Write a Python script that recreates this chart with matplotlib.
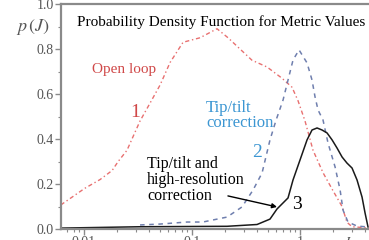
import matplotlib
matplotlib.use("Agg")
import matplotlib.pyplot as plt
from matplotlib.ticker import FixedLocator, NullFormatter

plt.rcParams['font.family'] = ['Liberation Serif', 'DejaVu Serif']
plt.rcParams['mathtext.fontset'] = 'stix'

# curve 1: open loop
x_open = [0.0061, 0.0101, 0.0141, 0.0182, 0.0207, 0.025, 0.0284, 0.033, 0.0409, 0.0506,
          0.0626, 0.0826, 0.1187, 0.1703, 0.2154, 0.278, 0.359, 0.495, 0.681, 0.843,
          0.958, 1.112, 1.319, 1.633, 2.02, 2.45, 2.72, 3.03, 4.26]
y_open = [0.107, 0.18, 0.22, 0.26, 0.30, 0.35, 0.41, 0.48, 0.56, 0.64,
          0.74, 0.83, 0.85, 0.89, 0.85, 0.80, 0.75, 0.72, 0.67, 0.63,
          0.57, 0.48, 0.35, 0.25, 0.17, 0.10, 0.03, 0.01, 0.005]

# curve 2: tip/tilt correction
x_tt = [0.033, 0.0506, 0.090, 0.126, 0.211, 0.290, 0.367, 0.445, 0.527, 0.600, 0.696,
        0.774, 0.861, 0.979, 1.161, 1.291, 1.377, 1.468, 1.633, 1.816, 2.11, 2.35,
        2.50, 2.78, 3.37, 4.26]
y_tt = [0.018, 0.022, 0.031, 0.031, 0.053, 0.098, 0.173, 0.249, 0.396, 0.484, 0.573,
        0.662, 0.751, 0.796, 0.738, 0.662, 0.587, 0.529, 0.484, 0.382, 0.276, 0.173,
        0.084, 0.031, 0.013, 0.009]

# curve 3: tip/tilt and high-resolution correction
x_hr = [0.0061, 0.033, 0.211, 0.400, 0.527, 0.612, 0.774, 0.861, 1.0, 1.161, 1.291,
        1.437, 1.598, 1.778, 1.98, 2.20, 2.45, 2.72, 3.03, 3.37, 3.75, 4.00, 4.26]
y_hr = [0.004, 0.010, 0.012, 0.020, 0.044, 0.089, 0.138, 0.218, 0.307, 0.396, 0.44,
        0.449, 0.44, 0.427, 0.396, 0.36, 0.32, 0.293, 0.271, 0.218, 0.142, 0.071, 0.009]

y_ticks = [0.0, 0.2, 0.4, 0.6, 0.8, 1.0]
y_ticklabels = ["0.0", "0.2", "0.4", "0.6", "0.8", "1.0"]
x_ticks = [0.01, 0.1, 1]
x_ticklabels = ["0.01", "0.1", "1"]

gray = "#8a8a8a"

fig = plt.figure(figsize=(3.69, 2.40), dpi=100)
ax = fig.add_axes([61 / 369, 11 / 240, 308 / 369, 225 / 240])

ax.plot(x_open, y_open, color="#e87070", lw=1.0, linestyle=(0, (3, 2, 1, 2)))
ax.plot(x_tt, y_tt, color="#6f7fae", lw=1.1, linestyle=(0, (3, 3)))
ax.plot(x_hr, y_hr, color="#1a1a1a", lw=1.1)

ax.set_xscale("log")
ax.set_xlim(0.00612, 4.35)
ax.set_ylim(0, 1.0)

ax.xaxis.set_major_locator(FixedLocator(x_ticks))
ax.set_xticklabels(x_ticklabels)
minors = [m * 10.0 ** e for e in (-3, -2, -1, 0) for m in range(2, 10)]
ax.xaxis.set_minor_locator(FixedLocator(minors))
ax.xaxis.set_minor_formatter(NullFormatter())
ax.set_yticks(y_ticks)
ax.set_yticklabels(y_ticklabels)
ax.set_yticks([0.1, 0.3, 0.5, 0.7, 0.9], minor=True)

ax.tick_params(which="major", direction="out", length=4, width=1, color=gray,
               labelcolor="#555555", labelsize=10, pad=1)
ax.tick_params(which="minor", direction="out", length=2.5, width=0.8, color=gray)

for side in ("left", "bottom", "top"):
    ax.spines[side].set_color(gray)
    ax.spines[side].set_linewidth(1.6)
ax.spines["right"].set_visible(False)

ax.text(0.519, 0.92, "Probability Density Function for Metric Values",
        transform=ax.transAxes, ha="center", va="center", fontsize=11, color="black")

ax.text(0.01186, 0.707, "Open loop", color="#d04848", fontsize=11, va="center")
ax.text(0.0297, 0.516, "1", color="#d04848", fontsize=14, ha="center", va="center")

ax.text(0.1349, 0.504, "Tip/tilt\ncorrection", color="#3c96d2", fontsize=12,
        va="center", linespacing=0.95)
ax.text(0.400, 0.338, "2", color="#3c96d2", fontsize=14, ha="center", va="center")

ax.text(0.0383, 0.218, "Tip/tilt and\nhigh-resolution\ncorrection", color="black",
        fontsize=11.5, va="center", linespacing=1.0)
ax.text(0.938, 0.107, "3", color="black", fontsize=14, ha="center", va="center")
ax.annotate("", xy=(0.612, 0.098), xytext=(0.215, 0.147),
            arrowprops=dict(arrowstyle="-|>", color="black", lw=1.0,
                            mutation_scale=7, shrinkA=0, shrinkB=0))

fig.text(33 / 369, 213 / 240, "$p\\,(J)$", color="#555555", fontsize=13,
         ha="center", va="center")
fig.text(347 / 369, 4 / 240, "$J$", color="#555555", fontsize=10, ha="center", va="top")

fig.savefig("out.png", dpi=100)
